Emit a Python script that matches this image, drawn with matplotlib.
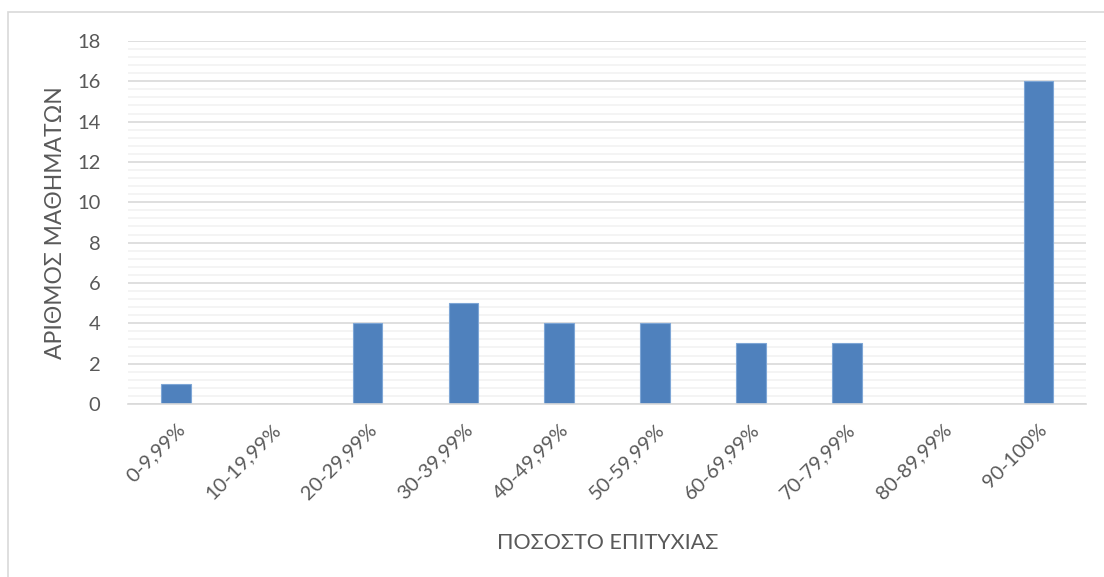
import matplotlib.pyplot as plt
from matplotlib.patches import Rectangle
from matplotlib.ticker import MultipleLocator

categories = ["0-9,99%", "10-19,99%", "20-29,99%", "30-39,99%", "40-49,99%",
              "50-59,99%", "60-69,99%", "70-79,99%", "80-89,99%", "90-100%"]
counts = [1, 0, 4, 5, 4, 4, 3, 3, 0, 16]

plt.rcParams["font.family"] = ["Lato", "DejaVu Sans"]
text_color = "#595959"

fig = plt.figure(figsize=(11.04, 5.77), dpi=100)
ax = fig.add_axes([0.116, 0.300, 0.868, 0.629])

# chart border (runs off the right and bottom edges)
fig.patches.append(Rectangle((8 / 1104, -0.05), 1.2, 1 - 12 / 577 + 0.05,
                             transform=fig.transFigure, fill=False,
                             edgecolor="#D9D9D9", linewidth=1.2))

x = range(len(categories))
ax.bar(x, counts, width=0.31, color="#4F81BD", edgecolor="#7EA6D6",
       linewidth=0.8, zorder=3)

ax.set_xlim(-0.5, len(categories) - 0.5)
ax.set_ylim(0, 18)
ax.yaxis.set_major_locator(MultipleLocator(2))
ax.yaxis.set_minor_locator(MultipleLocator(0.4))
ax.grid(axis="y", which="major", color="#D9D9D9", linewidth=1.2, zorder=0)
ax.grid(axis="y", which="minor", color="#F2F2F2", linewidth=1.2, zorder=0)

for s in ["top", "right", "left"]:
    ax.spines[s].set_visible(False)
ax.spines["bottom"].set_color("#D9D9D9")
ax.spines["bottom"].set_linewidth(1.2)
ax.spines["bottom"].set_zorder(4)

ax.tick_params(axis="both", which="both", length=0, colors=text_color,
               labelsize=14.5)
ax.tick_params(axis="y", pad=20)
ax.set_xticks(list(x))
ax.set_xticklabels(categories, rotation=45, ha="right", rotation_mode="anchor")
ax.tick_params(axis="x", pad=12)

ax.set_xlabel("ΠΟΣΟΣΤΟ ΕΠΙΤΥΧΙΑΣ", fontsize=15.5, color=text_color, labelpad=22)
ax.set_ylabel("ΑΡΙΘΜΟΣ ΜΑΘΗΜΑΤΩΝ", fontsize=16.5, color=text_color, labelpad=8)

fig.savefig("out.png", dpi=100)
